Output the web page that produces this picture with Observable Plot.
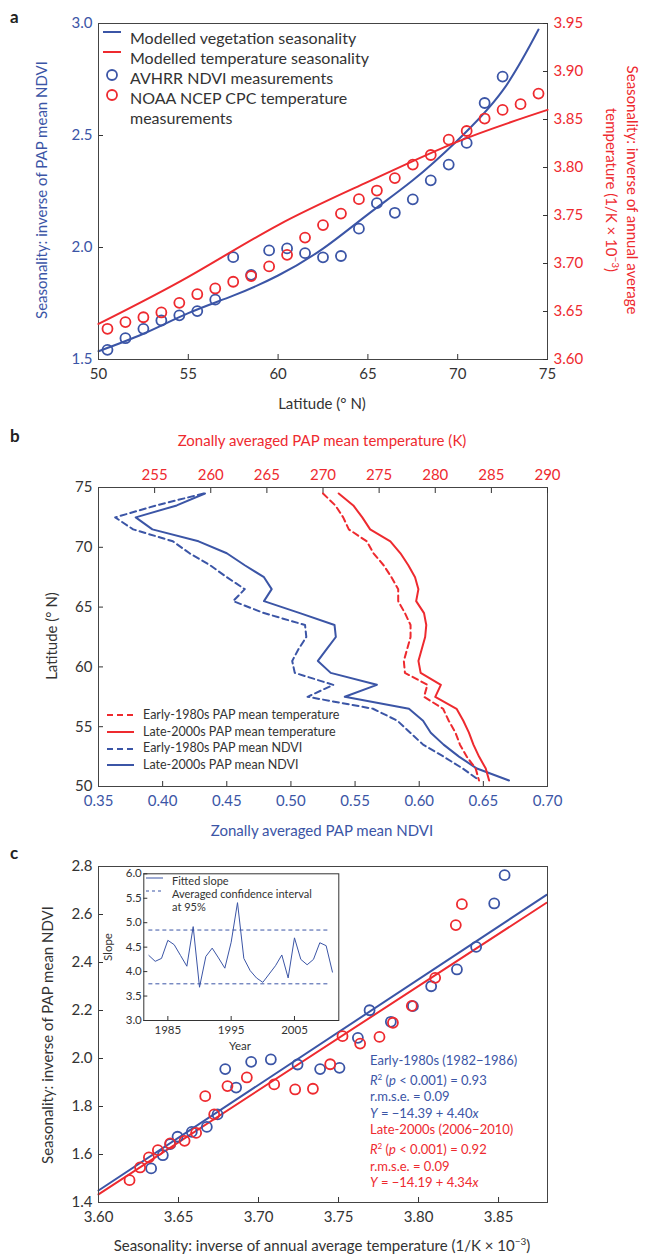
<!DOCTYPE html>
<html><head><meta charset="utf-8">
<script src="https://cdn.jsdelivr.net/npm/d3@7"></script>
<script src="https://cdn.jsdelivr.net/npm/@observablehq/plot@0.6"></script>
<style>
body{margin:0;background:#fff;font-family:Lato,"Noto Sans",sans-serif;color:#333}
#fig{position:relative;width:645px;height:1257px;overflow:hidden}
#fig svg{position:absolute}
.t{position:absolute;white-space:nowrap;font-size:15px;line-height:1.3}
.rot{transform:translate(-50%,-50%) rotate(-90deg);text-align:center}
.rot90{transform:translate(-50%,-50%) rotate(90deg);text-align:center}
.hc{transform:translate(-50%,-50%)}
.lab{position:absolute;font-weight:bold;font-size:17px;color:#222}
.leg{position:absolute;white-space:nowrap;display:flex;align-items:center}
</style></head>
<body><div id="fig"></div>
<script>
const blue = "#3b55a6", red = "#ee2a2f";

// panel a: latitude vs seasonality
const latNdvi = [50.5,51.5,52.5,53.5,54.5,55.5,56.5,57.5,58.5,59.5,60.5,61.5,62.5,63.5,64.5,65.5,66.5,67.5,68.5,69.5,70.5,71.5,72.5];
const ndviSeason = [1.543,1.595,1.637,1.674,1.697,1.716,1.767,1.957,1.878,1.987,1.996,1.975,1.956,1.962,2.084,2.198,2.155,2.215,2.300,2.370,2.467,2.645,2.763];
const latTemp = [50.5,51.5,52.5,53.5,54.5,55.5,56.5,57.5,58.5,59.5,60.5,61.5,62.5,63.5,64.5,65.5,66.5,67.5,68.5,69.5,70.5,71.5,72.5,73.5,74.5];
const tempSeason = [3.632,3.639,3.644,3.649,3.659,3.668,3.674,3.681,3.687,3.697,3.709,3.727,3.740,3.752,3.767,3.776,3.789,3.803,3.813,3.829,3.838,3.851,3.860,3.866,3.877];
const vegModelLat = [50,52.5,55,57.5,60,62.5,65,67.5,70,72.5,74.5];
const vegModel = [1.537,1.615,1.707,1.785,1.875,1.995,2.148,2.30,2.479,2.70,2.973];
const tempModelLat = [50,55,60,65,70,75];
const tempModel = [3.637,3.686,3.740,3.785,3.827,3.860];

// panel b: zonal means by latitude
const latB = [74.5,73.5,72.5,71.5,70.5,69.5,68.5,67.5,66.5,65.5,64.5,63.5,62.5,61.5,60.5,59.5,58.5,57.5,56.5,55.5,54.5,53.5,52.5,51.5,50.5];
const ndviLate = [0.433,0.411,0.379,0.392,0.428,0.450,0.464,0.479,0.485,0.479,0.507,0.534,0.535,0.528,0.521,0.531,0.567,0.542,0.592,0.603,0.609,0.619,0.631,0.645,0.670];
const ndviEarly = [0.432,0.395,0.363,0.377,0.408,0.421,0.437,0.450,0.464,0.455,0.479,0.511,0.512,0.506,0.501,0.503,0.533,0.513,0.564,0.583,0.593,0.603,0.619,0.634,0.647];
const tempLate = [271.4,272.7,273.5,274.2,276.0,276.9,277.6,278.2,278.5,278.3,279.0,279.2,279.1,278.8,278.5,278.7,280.5,280.0,281.9,282.5,283.0,283.4,283.9,284.5,284.8];
const tempEarly = [270.0,271.1,271.8,272.3,273.9,274.5,275.4,276.1,276.7,276.7,277.3,277.8,277.8,277.5,277.2,277.3,279.3,279.0,280.7,281.2,281.8,282.2,282.8,283.6,283.9];

// panel c: NDVI seasonality vs temperature seasonality
const earlyX = [3.6329,3.6402,3.6448,3.6494,3.6583,3.6677,3.6744,3.6792,3.6860,3.6954,3.7077,3.7244,3.7385,3.7506,3.7621,3.7694,3.7827,3.7965,3.8079,3.8240,3.8360,3.8473,3.8538];
const earlyY = [1.542,1.597,1.643,1.674,1.694,1.715,1.767,1.956,1.879,1.986,1.996,1.975,1.956,1.961,2.086,2.201,2.153,2.218,2.301,2.371,2.465,2.646,2.764];
const lateX = [3.6194,3.6260,3.6315,3.6371,3.6448,3.6538,3.6610,3.6667,3.6723,3.6806,3.6927,3.7098,3.7229,3.7340,3.7448,3.7525,3.7635,3.7756,3.7840,3.7958,3.8104,3.8233,3.8271];
const lateY = [1.493,1.546,1.588,1.618,1.646,1.657,1.690,1.843,1.767,1.885,1.921,1.892,1.871,1.874,1.976,2.093,2.062,2.090,2.149,2.219,2.336,2.556,2.643];
const fitX = [3.60, 3.88];
const fitEarly = [1.450, 2.682];
const fitLate = [1.434, 2.649];

// inset: fitted slope by year
const years = d3.range(1982, 2012);
const slope = [4.33,4.21,4.27,4.64,4.55,4.33,4.11,4.92,3.68,4.31,4.48,4.28,4.07,4.60,5.41,4.27,4.02,3.87,3.78,3.95,4.12,4.34,3.87,4.69,4.25,4.14,4.25,4.59,4.53,3.99];
const ciYears = [1982, 2010.7];
const ciHigh = 4.85, ciLow = 3.75;

const fig = document.getElementById("fig");
const zip = (xs, ys) => xs.map((x, i) => ({x, y: ys[i]}));
const style = {fontFamily: "Lato, 'Noto Sans', sans-serif", fontSize: "15px", color: "#333", background: "transparent", overflow: "visible"};

function place(svg, left, top) {
  svg.style.left = left + "px";
  svg.style.top = top + "px";
  fig.append(svg);
}
function html(cls, x, y, s, css = "") {
  const d = document.createElement("div");
  d.className = cls;
  d.style.cssText = `left:${x}px;top:${y}px;` + css;
  d.innerHTML = s;
  fig.append(d);
}
const swatch = (c, dash, w = 18, sw = 2) =>
  `<svg width="${w}" height="8" style="position:static;margin-right:9px"><line x1="0" x2="${w}" y1="4" y2="4" stroke="${c}" stroke-width="${sw}" ${dash ? `stroke-dasharray="${dash}"` : ""}/></svg>`;
const ring = c => `<svg width="18" height="14" style="position:static;margin-right:9px"><circle cx="9" cy="7" r="5" fill="none" stroke="${c}" stroke-width="1.8"/></svg>`;

const inX = (o = {}) => Plot.axisX({tickSize: -5, tickPadding: 14, label: null, ...o});
const inY = (o = {}) => Plot.axisY({tickSize: -5, tickPadding: 11, label: null, ...o});

// ---- panel a ----
const dimsA = {width: 645, height: 420, marginLeft: 98, marginRight: 98, marginTop: 23, marginBottom: 61, style};
place(Plot.plot({
  ...dimsA,
  x: {domain: [50, 75]},
  y: {domain: [1.5, 3.0]},
  marks: [
    inX({ticks: [50,55,60,65,70,75]}),
    inY({ticks: [1.5,2.0,2.5,3.0], tickFormat: d3.format(".1f"), fill: blue}),
    Plot.line(zip(vegModelLat, vegModel), {x: "x", y: "y", stroke: blue, strokeWidth: 2, curve: "natural"}),
    Plot.dot(zip(latNdvi, ndviSeason), {x: "x", y: "y", r: 5, stroke: blue, strokeWidth: 1.8}),
    Plot.frame({stroke: "#444"})
  ]
}), 0, 0);
place(Plot.plot({
  ...dimsA,
  x: {domain: [50, 75], axis: null},
  y: {domain: [3.60, 3.95], axis: null},
  marks: [
    Plot.axisY({anchor: "right", ticks: [3.60,3.65,3.70,3.75,3.80,3.85,3.90,3.95], tickFormat: d3.format(".2f"), tickSize: -5, tickPadding: 11, label: null, fill: red}),
    Plot.line(zip(tempModelLat, tempModel), {x: "x", y: "y", stroke: red, strokeWidth: 2, curve: "natural"}),
    Plot.dot(zip(latTemp, tempSeason), {x: "x", y: "y", r: 5, stroke: red, strokeWidth: 1.8})
  ]
}), 0, 0);
html("t rot", 42, 190, "Seasonality: inverse of PAP mean NDVI", `color:${blue}`);
html("t rot90", 622, 190, "Seasonality: inverse of annual average<br>temperature (1/K × 10<sup style='font-size:10px'>−3</sup>)", `color:${red}`);
html("t hc", 322, 404, "Latitude (° N)");
[[blue, "Modelled vegetation seasonality", 0], [red, "Modelled temperature seasonality", 0],
 [blue, "AVHRR NDVI measurements", 1], [red, "NOAA NCEP CPC temperature<br>measurements", 1]].forEach(([c, s, dot], i) => {
  html("leg t", 103, 28 + i * 20, (dot ? ring(c) : swatch(c)) + `<span>${s}</span>`, "align-items:flex-start;font-size:16px;line-height:1.25");
});

// ---- panel b ----
const dimsB = {width: 645, height: 440, marginLeft: 98, marginRight: 98, marginTop: 77, marginBottom: 64, style};
place(Plot.plot({
  ...dimsB,
  x: {domain: [0.35, 0.70]},
  y: {domain: [50, 75]},
  marks: [
    inX({ticks: d3.range(0.35, 0.7001, 0.05), tickFormat: d3.format(".2f"), fill: blue}),
    inY({ticks: [50,55,60,65,70,75]}),
    Plot.line(zip(ndviEarly, latB), {x: "x", y: "y", stroke: blue, strokeWidth: 2, strokeDasharray: "6,4"}),
    Plot.line(zip(ndviLate, latB), {x: "x", y: "y", stroke: blue, strokeWidth: 2}),
    Plot.frame({stroke: "#444"})
  ]
}), 0, 410);
place(Plot.plot({
  ...dimsB,
  x: {domain: [250, 290], axis: null},
  y: {domain: [50, 75], axis: null},
  marks: [
    Plot.axisX({anchor: "top", ticks: d3.range(255, 291, 5), tickSize: -5, tickPadding: 13, label: null, fill: red}),
    Plot.line(zip(tempEarly, latB), {x: "x", y: "y", stroke: red, strokeWidth: 2, strokeDasharray: "6,4"}),
    Plot.line(zip(tempLate, latB), {x: "x", y: "y", stroke: red, strokeWidth: 2})
  ]
}), 0, 410);
html("t hc", 322, 441, "Zonally averaged PAP mean temperature (K)", `color:${red}`);
html("t hc", 322, 831, "Zonally averaged PAP mean NDVI", `color:${blue}`);
html("t rot", 52, 636, "Latitude (° N)");
[[red, "6,4", "Early-1980s PAP mean temperature"], [red, null, "Late-2000s PAP mean temperature"],
 [blue, "6,4", "Early-1980s PAP mean NDVI"], [blue, null, "Late-2000s PAP mean NDVI"]].forEach(([c, d, s], i) => {
  html("leg t", 107, 709 + i * 16.7, swatch(c, d, 27) + `<span>${s}</span>`, "font-size:12.5px;line-height:1");
});

// ---- panel c ----
place(Plot.plot({
  width: 645, height: 417, marginLeft: 98, marginRight: 98, marginTop: 26, marginBottom: 55, style,
  x: {domain: [3.60, 3.8806]},
  y: {domain: [1.4, 2.8]},
  marks: [
    inX({ticks: [3.60,3.65,3.70,3.75,3.80,3.85], tickFormat: d3.format(".2f")}),
    inY({ticks: d3.range(1.4, 2.801, 0.2), tickFormat: d3.format(".1f")}),
    Plot.line(zip(fitX, fitEarly), {x: "x", y: "y", stroke: blue, strokeWidth: 2}),
    Plot.line(zip(fitX, fitLate), {x: "x", y: "y", stroke: red, strokeWidth: 2}),
    Plot.dot(zip(earlyX, earlyY), {x: "x", y: "y", r: 5, stroke: blue, strokeWidth: 1.8}),
    Plot.dot(zip(lateX, lateY), {x: "x", y: "y", r: 5, stroke: red, strokeWidth: 1.8}),
    Plot.frame({stroke: "#444"})
  ]
}), 0, 840);
html("t hc", 322, 1245, "Seasonality: inverse of annual average temperature (1/K × 10<sup style='font-size:10px'>−3</sup>)");
html("t rot", 48, 1035, "Seasonality: inverse of PAP mean NDVI");
html("t", 370, 1052,
  `<div style="color:${blue}">Early-1980s (1982−1986)<br><i>R</i><sup style="font-size:8px">2</sup> (<i>p</i> &lt; 0.001) = 0.93<br>r.m.s.e. = 0.09<br><i>Y</i> = −14.39 + 4.40<i>x</i></div>` +
  `<div style="color:${red}">Late-2000s (2006−2010)<br><i>R</i><sup style="font-size:8px">2</sup> (<i>p</i> &lt; 0.001) = 0.92<br>r.m.s.e. = 0.09<br><i>Y</i> = −14.19 + 4.34<i>x</i></div>`,
  "font-size:13px;line-height:16.5px");

// ---- inset ----
const inset = Plot.plot({
  width: 255, height: 220, marginLeft: 53.3, marginRight: 6.7, marginTop: 13.3, marginBottom: 60,
  style: {...style, fontSize: "11.5px"},
  x: {domain: [1981.2, 2012]},
  y: {domain: [3.0, 6.0]},
  marks: [
    Plot.rect([0], {x1: 1981.2, x2: 2012, y1: 3, y2: 6, fill: "white"}),
    Plot.axisX({ticks: [1985, 1995, 2005], tickFormat: d3.format("d"), tickSize: -4, tickPadding: 9, label: null}),
    Plot.axisY({ticks: d3.range(3, 6.01, 0.5), tickFormat: d3.format(".1f"), tickSize: -4, tickPadding: 6, label: null}),
    Plot.ruleY([ciHigh, ciLow], {x1: ciYears[0], x2: ciYears[1], stroke: blue, strokeWidth: 1, strokeDasharray: "4,3"}),
    Plot.line(zip(years, slope), {x: "x", y: "y", stroke: blue, strokeWidth: 1}),
    Plot.frame({stroke: "#333"})
  ]
});
place(inset, 90, 860);
html("t hc", 240, 1046, "Year", "font-size:11.5px");
html("t rot", 108, 947, "Slope", "font-size:11.5px");
[[null, "Fitted slope"], ["3,3", "Averaged confidence interval<br>at 95%"]].forEach(([d, s], i) => {
  html("leg t", 146, 874 + i * 12.5, swatch(blue, d, 17, 1) + `<span>${s}</span>`, "font-size:11px;line-height:1.2;align-items:flex-start");
});

// panel letters
html("lab", 10, 6, "a");
html("lab", 10, 425, "b");
html("lab", 10, 842, "c");
</script></body></html>
